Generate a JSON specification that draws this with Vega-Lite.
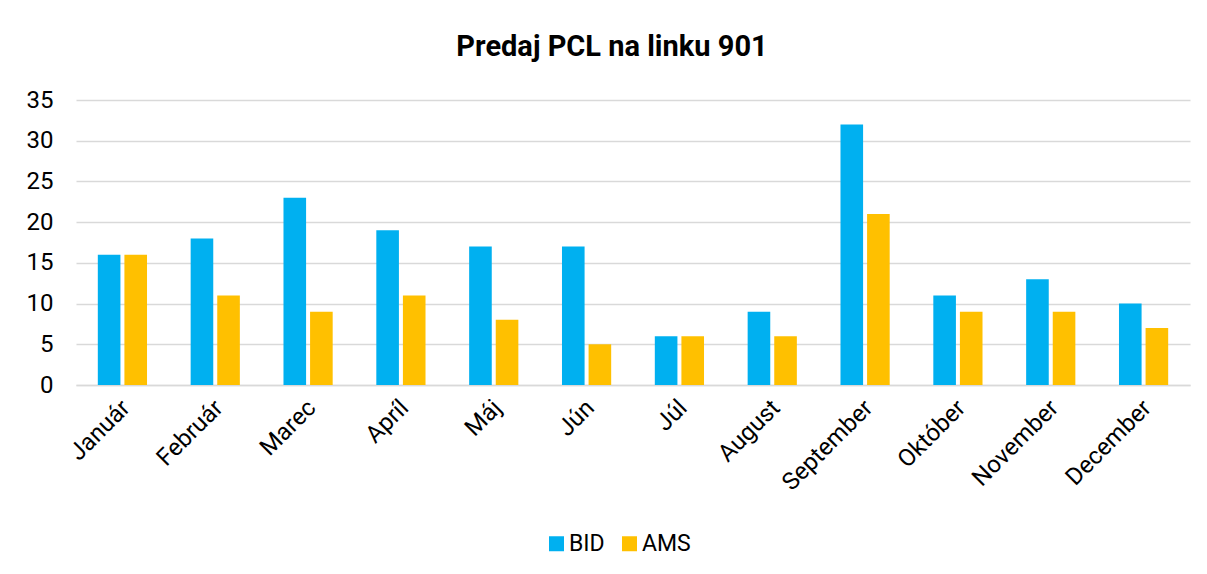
{
  "$schema": "https://vega.github.io/schema/vega-lite/v6.json",
  "autosize": {"type": "none"},
  "width": 1114,
  "height": 285,
  "padding": {"left": 76, "top": 100, "right": 17, "bottom": 189},
  "background": "white",
  "title": {"text": "Predaj PCL na linku 901", "font": "Roboto", "fontSize": 29, "fontWeight": "bold", "color": "#000000", "anchor": "middle", "offset": 26, "dx": -21},
  "data": {"values": [
    {"month": "Január", "series": "BID", "value": 16},
    {"month": "Január", "series": "AMS", "value": 16},
    {"month": "Február", "series": "BID", "value": 18},
    {"month": "Február", "series": "AMS", "value": 11},
    {"month": "Marec", "series": "BID", "value": 23},
    {"month": "Marec", "series": "AMS", "value": 9},
    {"month": "Apríl", "series": "BID", "value": 19},
    {"month": "Apríl", "series": "AMS", "value": 11},
    {"month": "Máj", "series": "BID", "value": 17},
    {"month": "Máj", "series": "AMS", "value": 8},
    {"month": "Jún", "series": "BID", "value": 17},
    {"month": "Jún", "series": "AMS", "value": 5},
    {"month": "Júl", "series": "BID", "value": 6},
    {"month": "Júl", "series": "AMS", "value": 6},
    {"month": "August", "series": "BID", "value": 9},
    {"month": "August", "series": "AMS", "value": 6},
    {"month": "September", "series": "BID", "value": 32},
    {"month": "September", "series": "AMS", "value": 21},
    {"month": "Október", "series": "BID", "value": 11},
    {"month": "Október", "series": "AMS", "value": 9},
    {"month": "November", "series": "BID", "value": 13},
    {"month": "November", "series": "AMS", "value": 9},
    {"month": "December", "series": "BID", "value": 10},
    {"month": "December", "series": "AMS", "value": 7}
  ]},
  "mark": {"type": "bar"},
  "encoding": {
    "x": {
      "field": "month", "type": "nominal", "sort": null,
      "scale": {"paddingInner": 0.47, "paddingOuter": 0.235},
      "axis": {"title": null, "labelAngle": -45, "labelAlign": "right", "labelBaseline": "middle", "labelFont": "Roboto", "labelFontSize": 24, "labelColor": "#000000", "ticks": false, "domain": true, "domainColor": "#d9d9d9", "domainWidth": 1.5, "labelPadding": 19, "labelOffset": 4, "grid": false}
    },
    "xOffset": {"field": "series", "type": "nominal", "sort": ["BID", "AMS"], "scale": {"paddingInner": 0.15, "paddingOuter": 0}},
    "y": {
      "field": "value", "type": "quantitative",
      "scale": {"domain": [0, 35]},
      "axis": {"title": null, "values": [0, 5, 10, 15, 20, 25, 30, 35], "labelFont": "Roboto", "labelFontSize": 24, "labelColor": "#000000", "ticks": false, "domain": false, "gridColor": "#d9d9d9", "gridWidth": 1.5, "labelPadding": 23}
    },
    "color": {
      "field": "series", "type": "nominal", "sort": ["BID", "AMS"],
      "scale": {"domain": ["BID", "AMS"], "range": ["#00B0F0", "#FFC000"]},
      "legend": {"title": null, "orient": "none", "legendX": 469, "legendY": 432, "direction": "horizontal", "symbolType": "square", "symbolSize": 225, "symbolStrokeWidth": 0, "labelFont": "Roboto", "labelFontSize": 23, "labelColor": "#000000", "columnPadding": 13, "labelOffset": 1}
    }
  },
  "config": {"view": {"stroke": null}}
}
